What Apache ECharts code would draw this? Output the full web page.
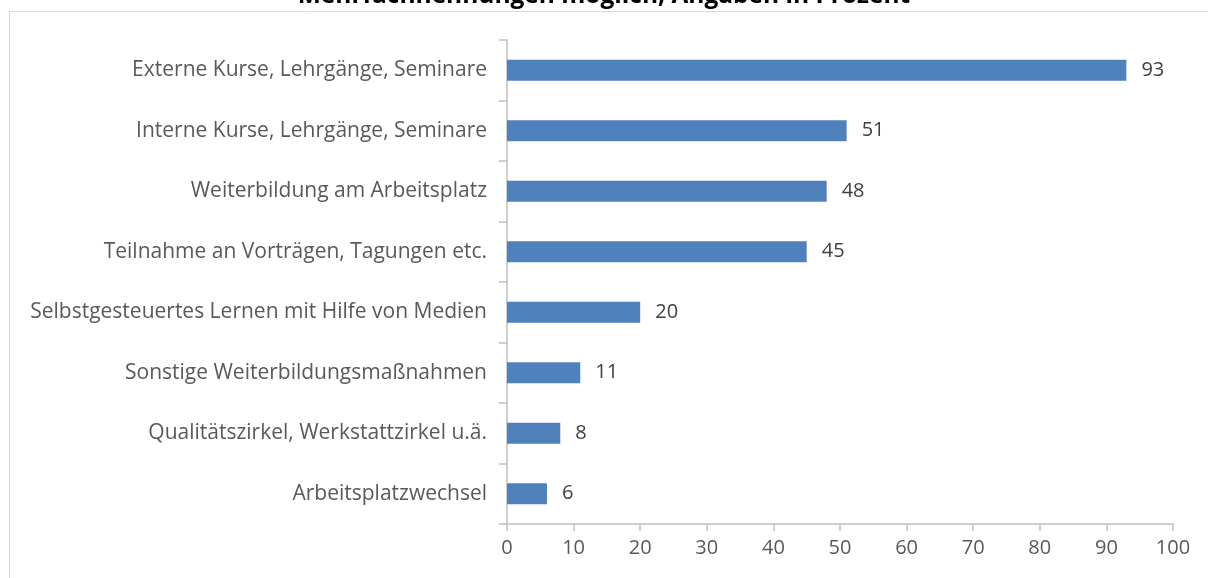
<!DOCTYPE html>
<html>
<head>
<meta charset="utf-8">
<script src="https://cdn.jsdelivr.net/npm/echarts@6/dist/echarts.min.js"></script>
<style>
  html, body { margin: 0; padding: 0; background: #fff; }
  #chart { width: 1208px; height: 578px; }
</style>
</head>
<body>
<div id="chart"></div>
<script>
var categories = [
    'Externe Kurse, Lehrgänge, Seminare',
    'Interne Kurse, Lehrgänge, Seminare',
    'Weiterbildung am Arbeitsplatz',
    'Teilnahme an Vorträgen, Tagungen etc.',
    'Selbstgesteuertes Lernen mit Hilfe von Medien',
    'Sonstige Weiterbildungsmaßnahmen',
    'Qualitätszirkel, Werkstattzirkel u.ä.',
    'Arbeitsplatzwechsel'
];
var values = [93, 51, 48, 45, 20, 11, 8, 6];
var titleText = 'Mehrfachnennungen möglich, Angaben in Prozent';

var font = '"Open Sans", "Noto Sans", sans-serif';
var myChart = echarts.init(document.getElementById('chart'));

var option = {
    animation: false,
    title: {
        text: titleText,
        left: 'center',
        top: -21,
        textStyle: { fontFamily: font, fontSize: 24.5, fontWeight: 'bold', color: '#000' }
    },
    graphic: [{
        type: 'rect',
        shape: { x: 9.5, y: 11.5, width: 1300, height: 700 },
        style: { fill: 'none', stroke: '#d9d9d9', lineWidth: 1 },
        silent: true
    }],
    grid: { left: 507, right: 35, top: 40, bottom: 54 },
    xAxis: {
        type: 'value',
        min: 0,
        max: 100,
        interval: 10,
        splitLine: { show: false },
        axisLine: { show: true, lineStyle: { color: '#bfbfbf', width: 1.5 } },
        axisTick: { show: true, length: 7, lineStyle: { color: '#bfbfbf', width: 1.5 } },
        axisLabel: { margin: 14, fontFamily: font, fontSize: 20, color: '#595959' }
    },
    yAxis: {
        type: 'category',
        inverse: true,
        data: categories,
        axisLine: { show: true, lineStyle: { color: '#bfbfbf', width: 1.5 } },
        axisTick: { show: true, length: 8, lineStyle: { color: '#bfbfbf', width: 1.5 } },
        axisLabel: { margin: 20, fontFamily: font, fontSize: 21, color: '#595959' }
    },
    series: [{
        type: 'bar',
        data: values,
        barWidth: 21,
        itemStyle: { color: '#4f81bd' },
        label: {
            show: true,
            position: 'right',
            distance: 15,
            fontFamily: font,
            fontSize: 20,
            color: '#404040'
        }
    }]
};

myChart.setOption(option);
</script>
</body>
</html>
